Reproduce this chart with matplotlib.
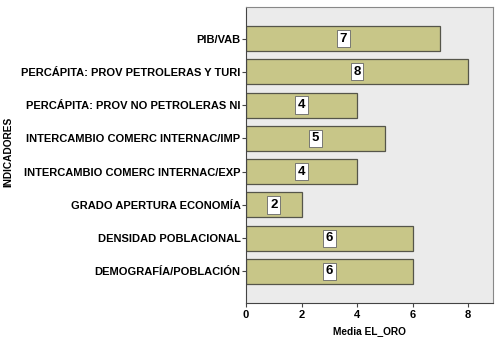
import numpy as np
import matplotlib
matplotlib.use("Agg")
import matplotlib.pyplot as plt

plt.rcParams['font.family'] = ['Liberation Sans', 'DejaVu Sans']

indicadores = ['PIB/VAB',
               'PERCÁPITA: PROV PETROLERAS Y TURI',
               'PERCÁPITA: PROV NO PETROLERAS NI',
               'INTERCAMBIO COMERC INTERNAC/IMP',
               'INTERCAMBIO COMERC INTERNAC/EXP',
               'GRADO APERTURA ECONOMÍA',
               'DENSIDAD POBLACIONAL',
               'DEMOGRAFÍA/POBLACIÓN']
media = [7, 8, 4, 5, 4, 2, 6, 6]

fig = plt.figure(figsize=(5.02, 3.37), dpi=100)
ax = fig.add_axes([246/502, 1-303/337, 247/502, 296/337])
ax.set_facecolor('#ebebeb')

y = np.arange(len(indicadores))[::-1]
ax.barh(y, media, height=0.75, color='#c8c688', edgecolor='#55554a', linewidth=0.9, zorder=2)

for yi, v in zip(y, media):
    ax.text(v/2, yi, str(v), ha='center', va='center', fontsize=9.5, fontweight='bold',
            bbox=dict(boxstyle='square,pad=0.2', fc='white', ec='#666666', lw=0.6), zorder=3)

ax.set_yticks(y)
ax.set_yticklabels(indicadores, fontsize=8, fontweight='bold')
ax.set_xlim(0, 8.9)
ax.set_ylim(-0.95, 7.95)
ax.set_xticks([0, 2, 4, 6, 8])
ax.tick_params(axis='x', labelsize=8, length=3, width=0.8, color='#444444', pad=2)
ax.tick_params(axis='y', length=3, width=0.8, color='#444444', pad=1)
for lab in ax.get_xticklabels():
    lab.set_fontweight('bold')
for s in ax.spines.values():
    s.set_color('#888888')
    s.set_linewidth(0.8)
ax.spines['left'].set_color('#444444')
ax.spines['bottom'].set_color('#444444')

ax.set_xlabel('Media EL_ORO', fontsize=7.3, fontweight='bold', labelpad=5)
fig.text(8/502, 1-152/337, 'INDICADORES', rotation=90, fontsize=7.3, fontweight='bold',
         ha='center', va='center')

fig.savefig('out.png', dpi=100)
